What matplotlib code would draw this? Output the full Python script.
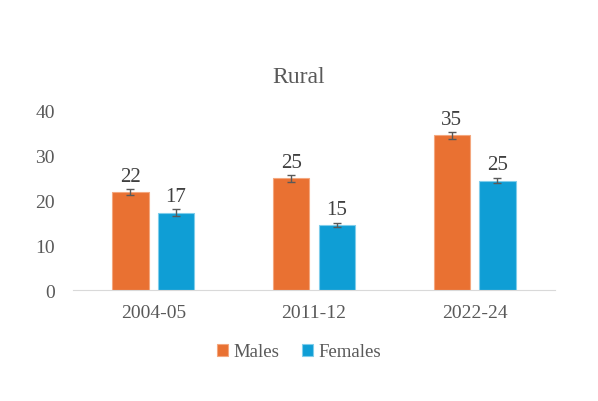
import matplotlib.pyplot as plt
import numpy as np

periodos = ['2004-05', '2011-12', '2022-24']
hombres = [21.8, 24.9, 34.5]
mujeres = [17.3, 14.5, 24.4]
err_hombres = [0.7, 0.7, 0.7]
err_mujeres = [0.7, 0.5, 0.6]
etiq_hombres = ['22', '25', '35']
etiq_mujeres = ['17', '15', '25']

naranja = '#E97132'
azul = '#0F9ED5'
gris = '#595959'

plt.rcParams['font.family'] = ['Liberation Serif', 'DejaVu Serif']

fig = plt.figure(figsize=(5.98, 4.02), dpi=100)
ax = fig.add_axes([0.122, 0.276, 0.806, 0.446])

x = np.arange(len(periodos))
ancho = 0.225
desp = 0.142

b1 = ax.bar(x - desp, hombres, ancho, color=naranja, edgecolor='#F4A77E', linewidth=0.8,
            label='Males', zorder=2)
b2 = ax.bar(x + desp, mujeres, ancho, color=azul, edgecolor='#7FCDEB', linewidth=0.8,
            label='Females', zorder=2)
ax.errorbar(x - desp, hombres, yerr=err_hombres, fmt='none', ecolor=gris,
            elinewidth=1, capsize=3, capthick=1, zorder=3)
ax.errorbar(x + desp, mujeres, yerr=err_mujeres, fmt='none', ecolor=gris,
            elinewidth=1, capsize=3, capthick=1, zorder=3)

for i in range(len(periodos)):
    ax.text(x[i] - desp, hombres[i] + 1.4, etiq_hombres[i], ha='center', va='bottom',
            fontsize=15, color='#404040')
    ax.text(x[i] + desp, mujeres[i] + 1.4, etiq_mujeres[i], ha='center', va='bottom',
            fontsize=15, color='#404040')

ax.set_xlim(-0.5, 2.5)
ax.set_ylim(0, 40)
ax.set_yticks([0, 10, 20, 30, 40])
ax.set_xticks(x)
ax.set_xticklabels(periodos)
ax.tick_params(axis='both', length=0, labelsize=14, colors=gris)
ax.tick_params(axis='y', pad=13)
ax.tick_params(axis='x', pad=10)
for s in ['top', 'right', 'left']:
    ax.spines[s].set_visible(False)
ax.spines['bottom'].set_color('#D9D9D9')

fig.text(0.5, 0.808, 'Rural', ha='center', va='center', fontsize=17, color=gris)

leg = fig.legend(handles=[b1, b2], loc='center', bbox_to_anchor=(0.5, 0.122), ncol=2,
                 frameon=False, fontsize=13.5, handlelength=0.6, handleheight=0.6,
                 handletextpad=0.3, columnspacing=1.2)
for t in leg.get_texts():
    t.set_color(gris)

fig.savefig('out.png', dpi=100)
